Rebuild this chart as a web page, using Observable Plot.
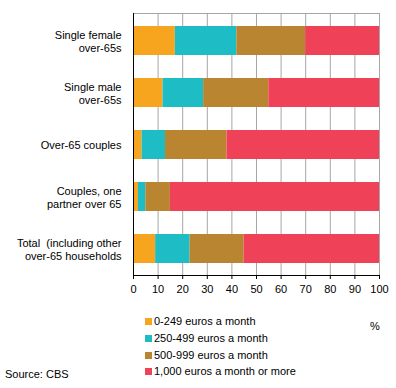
<!DOCTYPE html>
<html>
<head>
<meta charset="utf-8">
<script src="https://cdn.jsdelivr.net/npm/d3@7"></script>
<script src="https://cdn.jsdelivr.net/npm/@observablehq/plot@0.6"></script>
<style>
  html, body { margin: 0; padding: 0; background: #fff; }
  #wrap { position: relative; width: 396px; height: 388px; font-family: "Liberation Sans", Arial, sans-serif; font-size: 11px; color: #000; }
  #chart { position: absolute; left: 0; top: 0; }
  .leg { position: absolute; left: 145px; white-space: nowrap; line-height: 13px; }
  .leg span.sw { display: inline-block; width: 7px; height: 7px; margin-right: 2px; vertical-align: 0px; }
  #pct { position: absolute; left: 370px; top: 320px; }
  #src { position: absolute; left: 5px; top: 368px; }
</style>
</head>
<body>
<div id="wrap">
  <div id="chart"></div>
  <div id="legend"></div>
  <div id="pct">%</div>
  <div id="src">Source: CBS</div>
</div>
<script>
const categories = [
  "Single female\nover-65s",
  "Single male\nover-65s",
  "Over-65 couples",
  "Couples, one\npartner over 65",
  "Total \u00a0(including other\nover-65 households"
];
const series = ["0-249 euros a month", "250-499 euros a month", "500-999 euros a month", "1,000 euros a month or more"];
const colors = ["#F7A51F", "#1EBCC5", "#B98530", "#EF4157"];
const v0 = [17, 12, 3.5, 2, 9];
const v1 = [25, 16.5, 9.5, 3, 14];
const v2 = [28, 26.5, 25, 10, 22];
const v3 = [30, 45, 62, 85, 55];
const xTicks = [0, 10, 20, 30, 40, 50, 60, 70, 80, 90, 100];

const vals = [v0, v1, v2, v3];
const rows = [];
series.forEach((s, si) => categories.forEach((c, ci) => rows.push({cat: c, series: s, value: vals[si][ci]})));

const chart = Plot.plot({
  width: 396,
  height: 300,
  marginTop: 13,
  marginLeft: 133,
  marginRight: 17,
  marginBottom: 25,
  style: {fontFamily: "'Liberation Sans', Arial, sans-serif", fontSize: "11px", color: "#000", background: "#fff"},
  x: {domain: [0, 100], ticks: xTicks},
  y: {domain: categories, paddingInner: 0.45, paddingOuter: 0.225, label: null},
  color: {domain: series, range: colors},
  marks: [
    Plot.gridX(xTicks, {stroke: "#a6a6a6", strokeOpacity: 1}),
    Plot.frame({stroke: "#a6a6a6"}),
    Plot.barX(rows, Plot.stackX({y: "cat", x: "value", fill: "series", order: null})),
    Plot.ruleX([0], {stroke: "#000"}),
    Plot.frame({anchor: "bottom", stroke: "#000"}),
    Plot.axisX(xTicks, {tickSize: 4, tickPadding: 6, stroke: "#000", label: null, tickFormat: d => String(d)}),
    Plot.axisY({tickSize: 0, tickPadding: 12, label: null, lineHeight: 1.27, textAnchor: "end"})
  ]
});
document.getElementById("chart").appendChild(chart);

const legend = document.getElementById("legend");
const legTops = [315, 332, 349, 365];
series.forEach((s, i) => {
  const d = document.createElement("div");
  d.className = "leg";
  d.style.top = legTops[i] + "px";
  d.innerHTML = `<span class="sw" style="background:${colors[i]}"></span>${s}`;
  legend.appendChild(d);
});
</script>
</body>
</html>
